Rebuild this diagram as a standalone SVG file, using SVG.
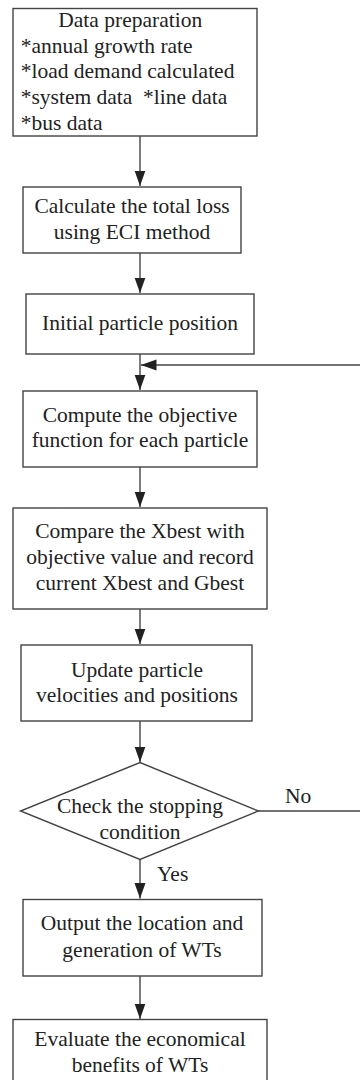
<svg xmlns="http://www.w3.org/2000/svg" width="360" height="1080" viewBox="0 0 360 1080">
<defs>
<style>
.box{fill:#fff;stroke:#444;stroke-width:1.4}
.t{font-family:"Liberation Serif","Times New Roman",serif;font-size:21.5px;fill:#222;text-anchor:middle}
.l{font-family:"Liberation Serif","Times New Roman",serif;font-size:21.5px;fill:#222;white-space:pre}
.c{fill:none;stroke:#444;stroke-width:1.4}
</style>
<marker id="ah" markerUnits="userSpaceOnUse" markerWidth="16" markerHeight="12" refX="15.5" refY="5.5" orient="auto">
<path d="M0,0 L15.5,5.5 L0,11 z" fill="#222"/>
</marker>
</defs>
<rect width="360" height="1080" fill="#fff"/>
<g id="connectors">
<line class="c" x1="140" y1="136" x2="140" y2="186" marker-end="url(#ah)"/>
<line class="c" x1="140" y1="253" x2="140" y2="293" marker-end="url(#ah)"/>
<line class="c" x1="140" y1="354" x2="140" y2="390" marker-end="url(#ah)"/>
<line class="c" x1="361" y1="365" x2="141" y2="365" marker-end="url(#ah)"/>
<line class="c" x1="140" y1="467" x2="140" y2="507" marker-end="url(#ah)"/>
<line class="c" x1="140" y1="609" x2="140" y2="644" marker-end="url(#ah)"/>
<line class="c" x1="140" y1="721" x2="140" y2="762" marker-end="url(#ah)"/>
<line class="c" x1="258.5" y1="811" x2="361" y2="811"/>
<line class="c" x1="140" y1="859.5" x2="140" y2="898.5" marker-end="url(#ah)"/>
<line class="c" x1="140" y1="976" x2="140" y2="1019" marker-end="url(#ah)"/>
<text class="l" x="285" y="803">No</text>
<text class="l" x="157" y="881">Yes</text>
</g>
<g id="n1">
<rect class="box" x="13" y="8.5" width="244" height="127.5"/>
<text class="l" x="58.3" y="26.7">Data preparation</text>
<text class="l" x="20.7" y="52.5">*annual growth rate</text>
<text class="l" x="20.7" y="78.3">*load demand calculated</text>
<text class="l" x="20.7" y="104" xml:space="preserve">*system data  *line data</text>
<text class="l" x="20.7" y="129.5">*bus data</text>
</g>
<g id="n2">
<rect class="box" x="23" y="187" width="218" height="66"/>
<text class="t" x="132" y="213">Calculate the total loss</text>
<text class="t" x="132" y="239">using ECI method</text>
</g>
<g id="n3">
<rect class="box" x="26" y="294" width="228" height="60"/>
<text class="t" x="140" y="330">Initial particle position</text>
</g>
<g id="n4">
<rect class="box" x="23" y="391" width="234" height="76"/>
<text class="t" x="140" y="422">Compute the objective</text>
<text class="t" x="140" y="447">function for each particle</text>
</g>
<g id="n5">
<rect class="box" x="13" y="508" width="254" height="101"/>
<text class="t" x="140" y="538">Compare the Xbest with</text>
<text class="t" x="140" y="564">objective value and record</text>
<text class="t" x="140" y="590">current Xbest and Gbest</text>
</g>
<g id="n6">
<rect class="box" x="21" y="645" width="231" height="76"/>
<text class="t" x="137" y="677">Update particle</text>
<text class="t" x="137" y="702">velocities and positions</text>
</g>
<g id="n7">
<polygon class="box" points="140,762.5 258.5,811 140,859.5 20.5,811"/>
<text class="t" x="140" y="813">Check the stopping</text>
<text class="t" x="140" y="839">condition</text>
</g>
<g id="n8">
<rect class="box" x="23" y="899.5" width="239" height="76.5"/>
<text class="t" x="142" y="930">Output the location and</text>
<text class="t" x="142" y="956.5">generation of WTs</text>
</g>
<g id="n9">
<rect class="box" x="13" y="1019.5" width="254" height="80"/>
<text class="t" x="140" y="1046">Evaluate the economical</text>
<text class="t" x="140" y="1072">benefits of WTs</text>
</g>
</svg>
